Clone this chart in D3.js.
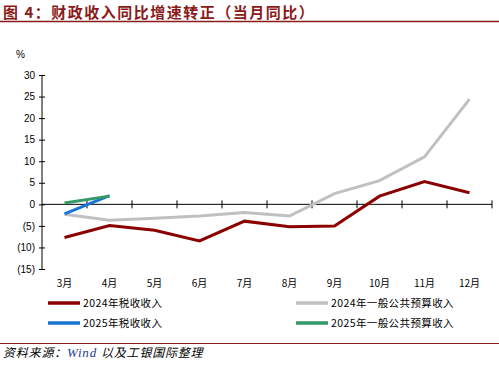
<!DOCTYPE html>
<html><head><meta charset="utf-8">
<script src="https://cdn.jsdelivr.net/npm/d3@7/dist/d3.min.js"></script>
<style>body{margin:0;background:#fff}</style>
</head><body>
<svg id="c" width="499" height="369"></svg>
<script>
const categories = ["3月","4月","5月","6月","7月","8月","9月","10月","11月","12月"];
const tax2024 = [-7.7,-4.9,-6.0,-8.5,-3.9,-5.2,-5.0,1.9,5.3,2.7];
const budget2024 = [-2.3,-3.7,-3.2,-2.7,-1.9,-2.7,2.5,5.5,11.0,24.4];
const tax2025 = [-2.2,2.0];
const budget2025 = [0.3,1.9];
const yTicks = [30,25,20,15,10,5,0,-5,-10,-15];
const seriesNames = ["2024年税收收入","2024年一般公共预算收入","2025年税收收入","2025年一般公共预算收入"];
const colors = ["#8B0000","#C0C0C0","#1874D2","#339966"];

const svg = d3.select("#c");
const cjk = "'Noto Sans CJK SC', sans-serif";
// title
svg.append("text").attr("x",3).attr("y",17.5).attr("font-family",cjk).attr("font-weight","bold")
  .attr("font-size",15).attr("letter-spacing",1.5).attr("fill","#8B1A1A").text("图 4：财政收入同比增速转正（当月同比）");
svg.append("line").attr("x1",0).attr("x2",499).attr("y1",21.5).attr("y2",21.5).attr("stroke","#8B1A1A").attr("stroke-width",1.3);

const x = d3.scaleBand().domain(categories).range([42,492]);
const y = d3.scaleLinear().domain([-15,30]).range([269,75]);

svg.append("text").attr("x",16).attr("y",58).attr("font-family","'Liberation Sans', sans-serif").attr("font-size",10).text("%");

const yAxis = svg.append("g").attr("transform","translate(42,0)")
  .call(d3.axisLeft(y).tickValues(yTicks).tickSize(5).tickFormat(d => d<0 ? "("+(-d)+")" : d));
yAxis.select(".domain").attr("stroke","#000").attr("d","M0,75V269");
yAxis.selectAll(".tick line").attr("x1",-3).attr("x2",3).attr("stroke","#000");
yAxis.selectAll("text").attr("x",-7).attr("font-family","'Liberation Sans', sans-serif").attr("font-size",10).attr("fill","#000");

const xAxis = svg.append("g").attr("transform","translate(0,"+y(0)+")")
  .call(d3.axisBottom(x).tickSize(0).tickFormat(""));
xAxis.select(".domain").attr("stroke","#000").attr("d","M42,0H492");
const bounds = categories.map(c => x(c)).concat([x(categories[categories.length-1])+x.bandwidth()]);
xAxis.selectAll(".btick").data(bounds.slice(1)).enter().append("line")
  .attr("x1",d=>d).attr("x2",d=>d).attr("y1",-4).attr("y2",4).attr("stroke","#000");

svg.selectAll(".xl").data(categories).enter().append("text")
  .attr("x",d=>x(d)+x.bandwidth()/2).attr("y",287).attr("text-anchor","middle")
  .attr("font-family",cjk).attr("font-size",10).text(d=>d);

const line = d3.line().x((d,i)=>x(categories[i])+x.bandwidth()/2).y(d=>y(d));
[tax2024,budget2024,tax2025,budget2025].forEach((s,k)=>{
  svg.append("path").datum(s).attr("d",line).attr("fill","none").attr("stroke",colors[k])
    .attr("stroke-width",3);
});

// legend
const legPos = [[48,303],[296,303],[48,323],[296,323]];
seriesNames.forEach((n,k)=>{
  const [lx,ly] = legPos[k];
  svg.append("line").attr("x1",lx).attr("x2",lx+32).attr("y1",ly).attr("y2",ly)
    .attr("stroke",colors[k]).attr("stroke-width",3.5);
  svg.append("text").attr("x",lx+35).attr("y",ly+4).attr("font-family",cjk).attr("font-size",10.5)
    .attr("letter-spacing",0.4).text(n);
});

// footer
svg.append("line").attr("x1",0).attr("x2",499).attr("y1",343.5).attr("y2",343.5).attr("stroke","#8B1A1A").attr("stroke-width",1);
const ft = svg.append("text").attr("x",3).attr("y",357).attr("font-family",cjk).attr("font-size",12).attr("font-style","italic").attr("letter-spacing",0.8);
ft.append("tspan").text("资料来源：");
ft.append("tspan").attr("fill","#1F3A93").attr("font-family","'Liberation Serif', serif").attr("font-size",13).text("Wind ");
ft.append("tspan").text("以及工银国际整理");
</script>
</body></html>
